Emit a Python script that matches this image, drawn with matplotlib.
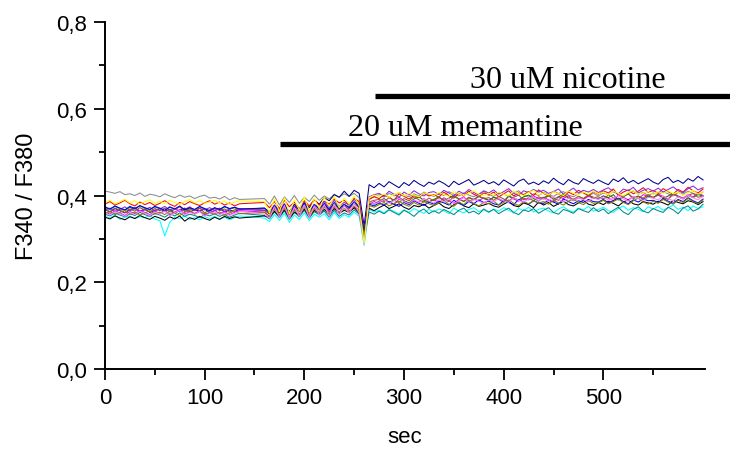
import numpy as np
import matplotlib
matplotlib.use("Agg")
import matplotlib.pyplot as plt
from matplotlib.ticker import MultipleLocator, FixedLocator, FuncFormatter

# Fura-2 ratio traces, one per cell (values are ratio x 1000)
# sampling every 5 s; frames 140-155 s are missing (straight segment in the plot)
time = list(range(0, 140, 5)) + list(range(160, 605, 5))

gray = [410,408,405,409,402,404,400,406,398,403,401,
        397,404,399,395,401,396,399,393,398,401,394,
        396,392,398,390,395,391,393,
        380,399,378,397,384,400,382,396,386,401,389,
        399,392,403,396,404,398,405,395,300,392,398,
        402,396,405,399,407,401,397,404,399,408,402,
        398,405,400,409,403,399,406,401,397,404,410,
        402,398,407,403,399,405,411,401,396,404,400,
        407,402,398,405,409,401,397,404,408,400,405,
        399,406,402,409,404,398,405,411,403,407,400,
        406,402,409,404,399,407,403,410,405,401,408]

navy = [368,362,370,365,360,367,372,364,369,361,366,
        370,363,368,359,366,371,362,367,364,369,360,
        365,370,362,367,363,368,366,
        358,372,360,376,363,380,368,385,372,390,380,
        395,388,402,396,410,398,412,405,330,425,418,
        428,420,432,425,418,430,423,435,427,421,431,
        426,434,428,420,433,425,431,437,424,429,435,
        427,432,424,436,429,422,433,438,426,431,425,
        434,428,440,431,425,437,430,426,439,433,428,
        436,430,425,438,432,441,429,435,427,433,439,
        431,426,437,442,430,435,428,439,433,444,436]

red = [380,386,378,383,389,381,376,385,379,384,377,
       382,388,380,375,384,379,386,381,377,383,388,
       380,385,378,383,376,381,384,
       372,386,370,389,374,385,369,388,376,391,378,
       387,380,392,383,389,378,394,386,320,391,397,
       393,401,396,389,404,398,392,400,395,405,399,
       402,396,408,400,394,405,399,410,403,397,406,
       401,408,397,404,411,399,406,402,409,400,413,
       405,399,410,404,397,408,402,412,406,400,409,
       403,411,406,415,400,408,413,404,410,418,407,
       412,405,416,409,403,414,408,419,411,406,415]

magenta = [362,357,365,360,354,363,358,366,361,356,364,
           359,366,355,362,368,357,363,359,365,354,361,
           366,358,363,356,361,365,362,
           352,370,355,373,350,369,357,375,353,371,360,
           376,362,374,360,378,365,372,368,305,380,386,
           383,390,385,379,392,387,381,389,384,393,386,
           390,384,395,388,382,391,397,386,392,388,395,
           389,396,391,385,398,392,387,394,390,399,393,
           396,390,385,397,393,400,388,395,391,398,394,
           392,399,394,388,401,396,390,398,393,402,397,
           395,403,398,392,405,399,394,402,397,406,400]

yellow = [384,389,381,386,391,383,388,380,386,390,382,
          387,381,389,384,379,386,391,383,388,382,385,
          389,383,387,380,385,388,386,
          360,392,363,395,358,390,366,397,362,393,370,
          396,375,398,372,394,380,399,376,290,395,401,
          398,404,396,402,407,399,405,401,397,406,403,
          400,407,402,398,409,404,400,406,411,403,399,
          405,401,408,403,399,410,404,400,407,412,402,
          406,401,409,404,400,411,405,402,408,403,410,
          404,408,401,410,405,399,407,412,403,406,409,
          402,409,405,411,404,408,400,406,412,403,407]

cyan = [352,348,355,345,350,353,347,351,349,354,346,
        342,307,338,350,347,353,345,349,344,351,347,
        352,346,350,344,349,353,348,
        340,356,343,359,338,355,345,360,342,357,350,
        358,344,361,347,356,350,362,352,285,368,362,
        366,360,369,363,358,367,361,370,364,359,368,
        362,369,365,358,371,364,360,368,372,363,367,
        361,369,364,372,366,360,370,365,373,362,368,
        371,364,360,369,374,366,362,371,367,375,364,
        368,373,365,361,370,376,366,372,368,363,374,
        369,375,366,372,378,368,373,365,376,370,374]

teal = [357,353,360,355,351,358,354,361,356,352,359,
        355,350,358,353,360,352,357,354,349,356,353,
        358,352,356,350,355,359,354,
        346,362,349,365,345,361,351,366,348,363,355,
        364,350,366,352,360,355,367,357,300,362,357,
        364,358,367,361,355,366,360,352,363,369,358,
        365,359,368,362,356,366,371,360,364,357,369,
        362,368,358,365,371,361,356,367,363,370,359,
        366,372,361,357,368,364,359,370,365,361,372,
        363,369,358,366,373,362,356,368,374,364,360,
        370,365,361,373,367,358,371,376,364,369,380]

black = [350,346,353,348,344,351,347,354,349,345,352,
         348,343,351,346,353,341,349,345,352,347,343,
         350,345,352,347,351,348,353,
         350,364,352,367,348,362,355,369,351,366,358,
         368,356,370,359,366,361,372,360,310,371,365,
         372,378,370,375,381,373,368,377,374,380,371,
         377,383,374,370,379,385,376,372,381,375,378,
         382,376,373,380,386,377,374,383,379,372,385,
         378,384,375,381,387,379,376,383,389,380,377,
         384,379,387,382,376,385,390,381,378,386,383,
         380,387,383,378,389,384,381,388,385,379,386]

green = [372,368,375,370,366,373,369,376,371,367,374,
         370,365,373,368,375,366,371,367,374,369,364,
         371,367,374,369,372,368,371,
         360,378,363,381,358,376,366,383,361,379,369,
         382,368,384,371,380,373,386,375,315,384,380,
         387,393,384,390,396,388,383,392,397,389,385,
         391,397,388,394,400,392,386,395,390,398,393,
         389,396,392,387,399,394,390,397,401,393,388,
         395,400,391,397,403,394,389,398,393,401,396,
         392,399,395,402,390,397,404,394,399,391,398,
         396,402,393,399,405,397,392,400,395,403,398]

violet = [366,371,363,368,374,365,370,362,367,373,364,
          369,375,366,371,363,368,374,365,370,367,372,
          366,371,364,369,373,367,370,
          362,378,365,381,360,376,368,384,364,380,371,
          386,372,389,375,384,378,391,380,310,397,402,
          405,398,410,403,396,408,401,411,404,399,407,
          409,402,412,406,399,410,404,414,407,401,411,
          406,413,403,409,416,405,400,411,407,414,408,
          412,405,409,415,403,410,417,406,412,408,414,
          407,413,418,409,404,415,411,419,406,412,416,
          410,417,408,414,420,411,406,416,422,413,418]

pink = [360,355,363,358,352,361,356,364,359,354,362,
        357,364,353,360,366,355,361,357,363,352,359,
        362,356,360,354,359,363,357,
        348,374,350,377,347,373,352,378,349,376,355,
        379,352,381,355,377,358,383,360,288,386,380,
        385,391,382,388,394,386,381,390,384,392,387,
        383,390,386,393,381,388,395,384,391,387,382,
        390,386,393,388,384,395,389,385,392,397,388,
        393,387,398,391,385,394,389,396,390,386,395,
        391,397,389,394,400,392,387,398,393,389,396,
        394,390,399,393,388,397,392,401,395,390,398]

brown = [368,363,371,366,361,369,364,372,367,362,370,
         365,371,362,368,374,363,369,366,371,360,367,
         371,365,369,362,367,370,366,
         358,372,361,375,356,371,363,377,359,374,366,
         378,364,380,367,376,369,382,371,312,385,389,
         391,386,395,389,384,393,388,397,390,385,394,
         388,395,390,386,398,392,387,396,391,399,393,
         395,389,398,392,387,396,401,390,394,388,397,
         392,399,394,389,402,396,391,398,393,400,395,
         397,392,401,395,390,399,404,393,398,394,402,
         395,401,396,391,403,398,393,400,405,396,399]

blue = [374,369,376,371,367,375,370,377,372,368,375,
        371,366,374,369,376,367,372,368,375,370,365,
        372,368,375,370,373,369,371,
        362,376,365,379,360,374,368,382,364,378,370,
        381,367,383,370,379,372,385,374,318,380,376,
        383,378,386,380,375,384,379,388,382,377,385,
        380,387,383,378,389,382,377,386,381,390,384,
        387,381,378,389,384,379,391,385,380,388,383,
        382,389,385,380,392,386,381,388,384,391,386,
        385,391,383,388,394,386,381,390,385,392,388,
        389,384,393,387,382,391,386,395,388,383,392]

olive = [358,363,356,361,366,357,362,355,360,365,357,
         362,356,364,359,354,361,366,357,363,358,360,
         357,362,355,360,364,358,361,
         352,368,355,371,350,366,357,372,353,369,360,
         373,358,375,361,370,363,376,365,308,377,373,
         379,384,376,382,387,380,375,384,378,386,381,
         377,383,388,380,375,385,379,390,382,376,384,
         381,387,378,384,390,382,377,386,381,388,383,
         386,380,389,383,378,387,392,384,379,388,382,
         383,389,381,386,392,384,379,388,394,385,380,
         387,382,391,385,380,389,384,393,386,381,390]

traces = [(gray, '#8c8c8c'), (navy, '#00008b'), (red, '#ff0000'),
          (magenta, '#ff00ff'), (cyan, '#00ffff'), (teal, '#008b8b'),
          (black, '#000000'), (green, '#008000'), (violet, '#8a2be2'),
          (brown, '#a0522d'), (blue, '#0000ff'), (olive, '#808000'),
          (pink, '#ff80ff'), (yellow, '#ffff00')]

# drug application bars: (label, start, end, level)
bars = [("20 uM memantine", 176, 627, 0.519),
        ("30 uM nicotine", 271, 627, 0.629)]

x_major = [0, 100, 200, 300, 400, 500]
x_minor = [50, 150, 250, 350, 450, 550]

plt.rcParams['font.family'] = ['Liberation Sans', 'DejaVu Sans']

fig = plt.figure(figsize=(7.3, 4.52), dpi=100)
ax = fig.add_axes([0.1438, 0.1814, 0.8220, 0.7676])

t = np.array(time)
for vals, col in traces:
    ax.plot(t, np.array(vals) / 1000.0, color=col, lw=0.75)

for label, x0, x1, lvl in bars:
    ax.plot([x0, x1], [lvl, lvl], color='black', lw=3.8,
            solid_capstyle='butt', clip_on=False)

ax.text(464, 0.634, "30 uM nicotine", ha='center', va='bottom',
        family='Liberation Serif', fontsize=23)
ax.text(362, 0.524, "20 uM memantine", ha='center', va='bottom',
        family='Liberation Serif', fontsize=23)

ax.set_xlim(0, 602)
ax.set_ylim(0, 0.8)
ax.spines['top'].set_visible(False)
ax.spines['right'].set_visible(False)
for s in ['left', 'bottom']:
    ax.spines[s].set_linewidth(1.4)

ax.xaxis.set_major_locator(FixedLocator(x_major))
ax.xaxis.set_minor_locator(FixedLocator(x_minor))
ax.yaxis.set_major_locator(MultipleLocator(0.2))
ax.yaxis.set_minor_locator(MultipleLocator(0.1))
ax.yaxis.set_major_formatter(FuncFormatter(lambda v, p: f"{v:.1f}".replace('.', ',')))
ax.tick_params(which='major', length=8, width=1.3, labelsize=16, pad=5)
ax.tick_params(which='minor', length=4, width=1.3)

ax.set_xlabel("sec", fontsize=16, labelpad=13)
ax.set_ylabel("F340 / F380", fontsize=17, labelpad=13)

fig.savefig("out.png", dpi=100)
